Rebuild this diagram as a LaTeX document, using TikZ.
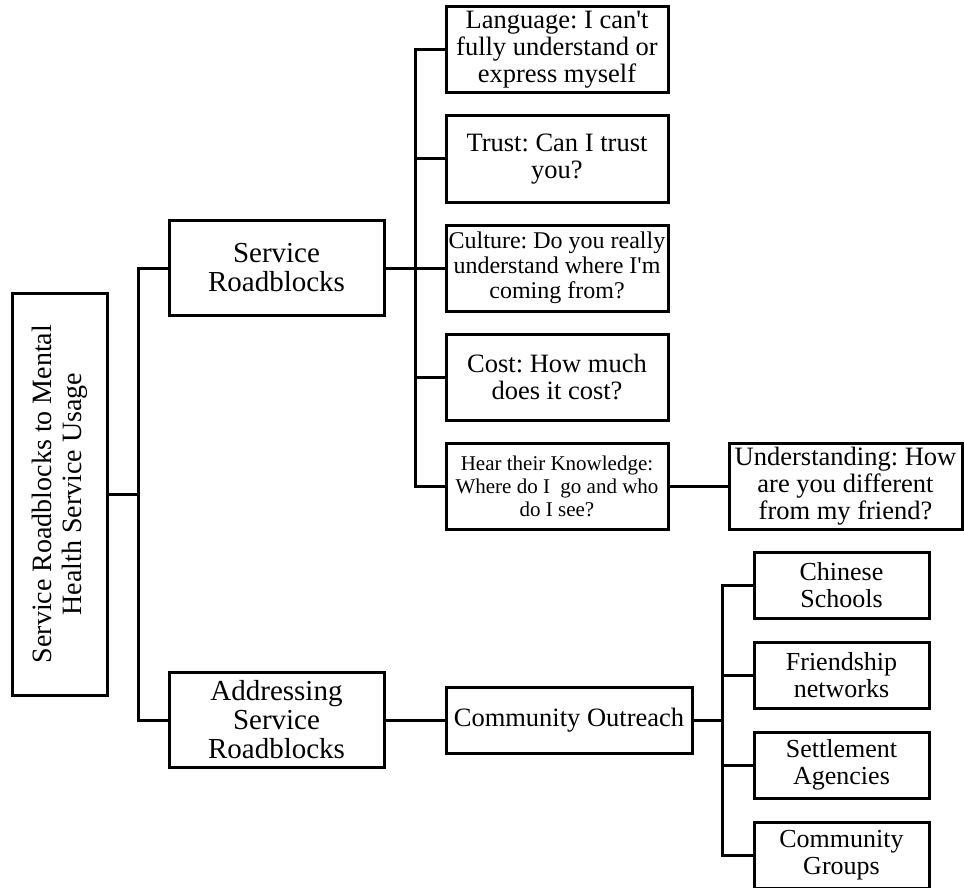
\documentclass[tikz,border=0pt]{standalone}
\usepackage{fontspec}
\setmainfont{Liberation Serif}
\frenchspacing
\usetikzlibrary{positioning}
\tikzstyle{rootbox} = [rectangle, draw=black, line width=3pt, minimum width=402pt, minimum height=95pt, inner sep=0pt, align=center, rotate=90, font=\fontsize{28}{30}\selectfont]
\tikzstyle{branch} = [rectangle, draw=black, line width=3pt, minimum width=215pt, minimum height=95pt, inner sep=0pt, align=center, font=\fontsize{29}{29}\selectfont]
\tikzstyle{issue} = [rectangle, draw=black, line width=3pt, minimum width=222pt, minimum height=86pt, inner sep=0pt, align=center, font=\fontsize{26.5}{27}\selectfont]
\tikzstyle{leaf} = [rectangle, draw=black, line width=3pt, minimum width=175pt, minimum height=66pt, inner sep=0pt, align=center, font=\fontsize{26}{27}\selectfont]
\tikzstyle{link} = [line width=3pt]

\begin{document}
\begin{tikzpicture}[x=1pt, y=-1pt, node distance=109pt]
\useasboundingbox (0,0) rectangle (964,888);
% Root and branches
\node (root) [rootbox] at (59.5,494) {Service Roadblocks to Mental\\Health Service Usage};
\node (roadblocks) [branch] at (276.5,268) {Service\\Roadblocks};
\node (addressing) [branch] at (276.5,720) {Addressing\\Service\\Roadblocks};

% Roadblocks column
\node (language) [issue] at (557,50) {Language: I can\textquotesingle t\\fully understand or\\express myself};
\node (trust) [issue, below of=language] {Trust: Can I trust\\you?};
\node (culture) [issue, below of=trust, font=\fontsize{24}{25}\selectfont] {Culture: Do you really\\understand where I\textquotesingle m\\coming from?};
\node (cost) [issue, below of=culture] {Cost: How much\\does it cost?};
\node (hear) [issue, below of=cost, font=\fontsize{21}{23}\selectfont] {Hear their Knowledge:\\Where do I~ go and who\\do I see?};
\node (understanding) [issue, right of=hear, node distance=288.5pt, minimum width=233pt] {Understanding: How\\are you different\\from my friend?};

% Outreach column
\node (outreach) [issue, right of=addressing, node distance=292.5pt, minimum width=246pt, minimum height=66pt] {Community Outreach};
\node (schools) [leaf] at (841.5,585) {Chinese\\Schools};
\node (friends) [leaf, below of=schools, node distance=90pt] {Friendship\\networks};
\node (agencies) [leaf, below of=friends, node distance=90pt] {Settlement\\Agencies};
\node (groups) [leaf, below of=agencies, node distance=90pt] {Community\\Groups};

% Junctions
\coordinate (j1) at (138,494);
\coordinate (j2) at (415,268);
\coordinate (j3) at (722,720);

% Draw lines
\draw [link] (root.south) -- (j1);
\draw [link] (j1) |- (roadblocks.west);
\draw [link] (j1) |- (addressing.west);
\draw [link] (roadblocks.east) -- (j2);
\draw [link] (j2) |- (language.west);
\draw [link] (j2) |- (trust.west);
\draw [link] (j2) -- (culture.west);
\draw [link] (j2) |- (cost.west);
\draw [link] (j2) |- (hear.west);
\draw [link] (hear) -- (understanding);
\draw [link] (addressing) -- (outreach);
\draw [link] (outreach.east) -- (j3);
\draw [link] (j3) |- (schools.west);
\draw [link] (j3) |- (friends.west);
\draw [link] (j3) |- (agencies.west);
\draw [link] (j3) |- (groups.west);

\end{tikzpicture}
\end{document}
